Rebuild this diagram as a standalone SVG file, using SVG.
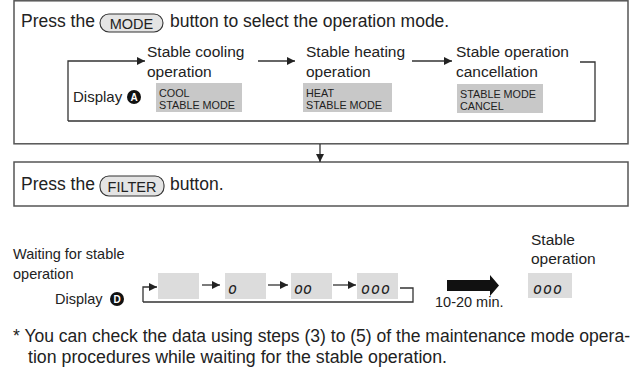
<svg xmlns="http://www.w3.org/2000/svg" width="643" height="370" viewBox="0 0 643 370">
<style>
text{font-family:"Liberation Sans",Arial,sans-serif;fill:#222}
.t{font-size:17.5px}
.l{font-size:15.5px}
.b{font-size:14.5px}
.s{font-size:10.8px}
.frame{fill:none;stroke:#555;stroke-width:1.5}
.ln{fill:none;stroke:#333;stroke-width:1.3}
.gray{fill:#c8c8c8}
.lgray{fill:#dcdcdc}
.btn{fill:#e4e4e4;stroke:#333;stroke-width:1.1}
.seg{font-family:"DejaVu Sans Mono",monospace;font-style:italic;font-size:15px;fill:#222}
.badge{fill:#111}
.bt{font-size:10px;font-weight:bold;fill:#fff}
</style>
<defs>
<marker id="ah" viewBox="0 0 10 10" refX="10" refY="5" markerWidth="8" markerHeight="8" markerUnits="userSpaceOnUse" orient="auto">
<path d="M0,0 L10,5 L0,10 Z" fill="#222"/>
</marker>
</defs>
<g id="step1">
<rect class="frame" x="14" y="0.8" width="614" height="143"/>
<text class="t" x="21" y="27">Press the</text>
<rect class="btn" x="100" y="14" width="63" height="18" rx="9"/>
<text class="b" x="131.5" y="29" text-anchor="middle">MODE</text>
<text class="t" x="170" y="27">button to select the operation mode.</text>
</g>
<g id="cool">
<text class="l" x="147" y="57">Stable cooling</text>
<text class="l" x="147" y="77">operation</text>
<rect class="gray" x="156" y="83" width="86" height="29"/>
<text class="s" x="159" y="97">COOL</text>
<text class="s" x="159" y="109">STABLE MODE</text>
</g>
<g id="heat">
<text class="l" x="306" y="57">Stable heating</text>
<text class="l" x="306" y="77">operation</text>
<rect class="gray" x="303" y="83" width="89" height="29"/>
<text class="s" x="306" y="97">HEAT</text>
<text class="s" x="306" y="109">STABLE MODE</text>
</g>
<g id="cancel">
<text class="l" x="456" y="57">Stable operation</text>
<text class="l" x="456" y="77">cancellation</text>
<rect class="gray" x="457" y="84" width="86" height="29"/>
<text class="s" x="460" y="98">STABLE MODE</text>
<text class="s" x="460" y="110">CANCEL</text>
</g>
<g id="displayA">
<text x="73" y="102" font-size="15">Display</text>
<circle class="badge" cx="134" cy="97" r="7"/>
<text class="bt" x="134" y="100.5" text-anchor="middle">A</text>
</g>
<g id="step2">
<rect class="frame" x="14" y="162" width="614" height="44"/>
<text class="t" x="21" y="190">Press the</text>
<rect class="btn" x="100" y="176" width="64" height="20" rx="9"/>
<text class="b" x="132" y="191.5" text-anchor="middle">FILTER</text>
<text class="t" x="170" y="190">button.</text>
</g>
<g id="waiting">
<text class="b" x="13" y="259">Waiting for stable</text>
<text class="b" x="13" y="279">operation</text>
<text class="b" x="55" y="304">Display</text>
<circle class="badge" cx="117" cy="299" r="7"/>
<text class="bt" x="117" y="302.5" text-anchor="middle">D</text>
</g>
<g id="seg0"><rect class="lgray" x="158" y="273" width="41" height="26"/></g>
<g id="seg1"><rect class="lgray" x="225" y="273" width="41" height="26"/><text class="seg" x="228" y="294">o</text></g>
<g id="seg2"><rect class="lgray" x="291" y="273" width="41" height="26"/><text class="seg" x="294" y="294">oo</text></g>
<g id="seg3"><rect class="lgray" x="357" y="273" width="41" height="26"/><text class="seg" x="361" y="294" letter-spacing="1">ooo</text></g>
<g id="stable">
<text class="l" x="531" y="245">Stable</text>
<text class="l" x="531" y="264">operation</text>
<rect class="lgray" x="528" y="273" width="44" height="25"/>
<text class="seg" x="533" y="294" letter-spacing="1">ooo</text>
</g>
<g id="connectors">
<path class="ln" d="M68,121 V61 H145" marker-end="url(#ah)"/>
<path class="ln" d="M68,121 H595 V62 H580"/>
<path class="ln" d="M258,61 H295" marker-end="url(#ah)"/>
<path class="ln" d="M412,61 H452" marker-end="url(#ah)"/>
<path class="ln" d="M320,144 V162" marker-end="url(#ah)"/>
<path class="ln" d="M143,302 V287 H157" marker-end="url(#ah)"/>
<path class="ln" d="M143,302 H413 V288 H400"/>
<path class="ln" d="M202,285 H220" marker-end="url(#ah)"/>
<path class="ln" d="M268,285 H288" marker-end="url(#ah)"/>
<path class="ln" d="M333,285 H356" marker-end="url(#ah)"/>
<path d="M447,280 H490 V275 L499,285.5 L490,296 V291 H447 Z" fill="#111"/>
<text class="b" x="435" y="307">10-20 min.</text>
</g>
<g id="note">
<text class="t" x="13" y="342" textLength="617" lengthAdjust="spacingAndGlyphs">* You can check the data using steps (3) to (5) of the maintenance mode opera-</text>
<text class="t" x="28" y="363" textLength="419" lengthAdjust="spacingAndGlyphs">tion procedures while waiting for the stable operation.</text>
</g>
</svg>
